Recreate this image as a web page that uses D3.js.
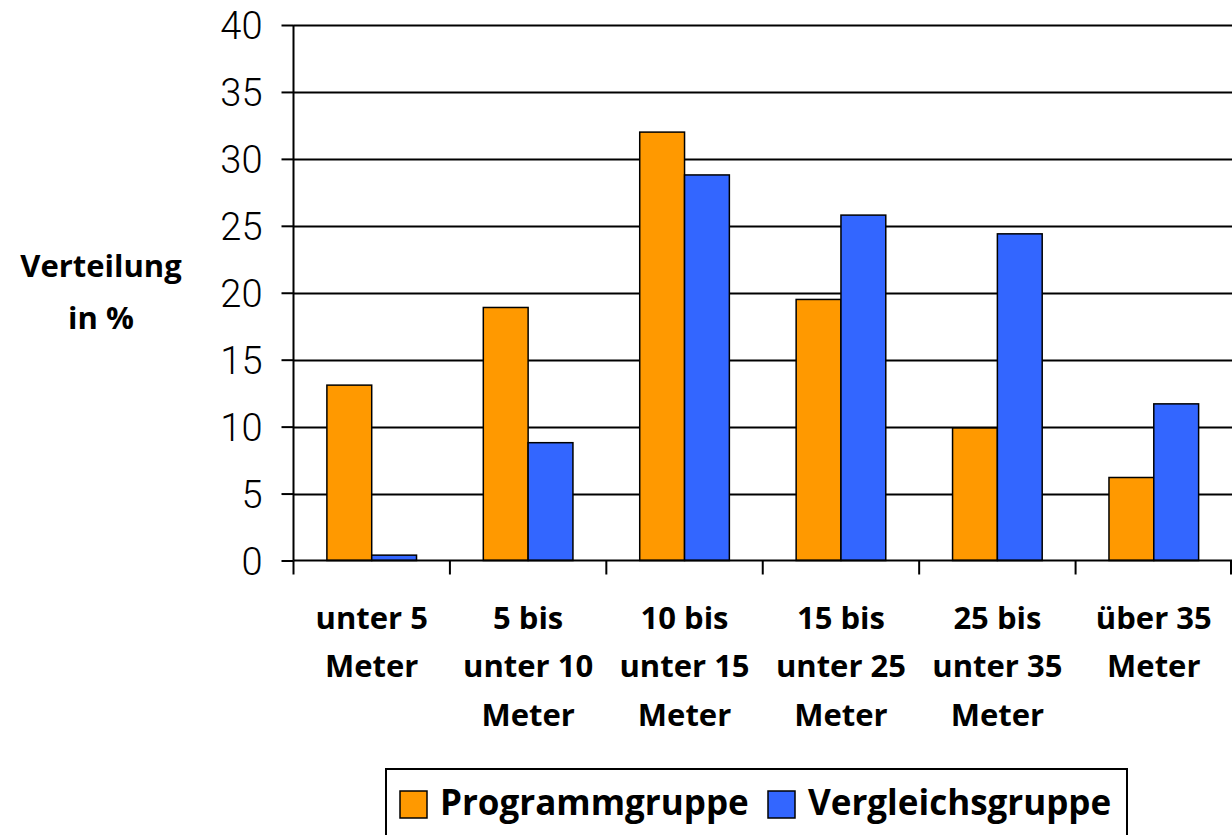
<!DOCTYPE html>
<html>
<head>
<meta charset="utf-8">
<script src="https://cdn.jsdelivr.net/npm/d3@7"></script>
<style>
  body { margin: 0; background: #fff; }
  svg { display: block; }
</style>
</head>
<body>
<div id="chart"></div>
<script>
const categories = [
  ["unter 5", "Meter"],
  ["5 bis", "unter 10", "Meter"],
  ["10 bis", "unter 15", "Meter"],
  ["15 bis", "unter 25", "Meter"],
  ["25 bis", "unter 35", "Meter"],
  ["über 35", "Meter"]
];
const seriesNames = ["Programmgruppe", "Vergleichsgruppe"];
const programm = [13.1, 18.9, 32.0, 19.5, 9.9, 6.2];
const vergleich = [0.4, 8.8, 28.8, 25.8, 24.4, 11.7];
const yTicks = [0, 5, 10, 15, 20, 25, 30, 35, 40];
const colors = ["#FF9900", "#3366FF"];

const width = 1232;
const height = 835;
const marginLeft = 293.5;
const marginRight = 0;
const marginTop = 25;
const yZero = 560.5;
const labelFont = "'Open Sans'";

const data = categories.map((c, i) => ({ i, label: c, values: [programm[i], vergleich[i]] }));

const x = d3.scaleBand()
    .domain(d3.range(categories.length))
    .range([marginLeft, width - marginRight]);

const inner = d3.scaleBand()
    .domain([0, 1])
    .range([0, x.bandwidth()])
    .paddingOuter(0.745)
    .paddingInner(0);

const y = d3.scaleLinear()
    .domain([0, 40])
    .range([yZero, marginTop]);

const svg = d3.create("svg")
    .attr("width", width)
    .attr("height", height)
    .attr("viewBox", [0, 0, width, height]);

// gridlines
svg.append("g")
    .attr("stroke", "#000")
    .attr("stroke-width", 2)
    .selectAll("line")
    .data(yTicks.filter(d => d > 0))
    .join("line")
      .attr("x1", marginLeft)
      .attr("x2", width)
      .attr("y1", d => Math.round(y(d)) + 0.5)
      .attr("y2", d => Math.round(y(d)) + 0.5);

// bars
const groups = svg.append("g")
    .selectAll("g")
    .data(data)
    .join("g")
      .attr("transform", d => `translate(${x(d.i)},0)`);

groups.selectAll("rect")
    .data(d => d.values.map((v, k) => ({ k, v })))
    .join("rect")
      .attr("x", d => inner(d.k))
      .attr("y", d => y(d.v))
      .attr("width", inner.bandwidth())
      .attr("height", d => y(0) - y(d.v))
      .attr("fill", d => colors[d.k])
      .attr("stroke", "#000")
      .attr("stroke-width", 1.5);

// y axis
svg.append("g")
    .attr("transform", `translate(${marginLeft},0)`)
    .call(d3.axisLeft(y).tickValues(yTicks).tickSize(12).tickPadding(19))
    .call(g => g.select(".domain").attr("stroke-width", 2).attr("d", `M0,${y(40)}V${y(0)}`))
    .call(g => g.selectAll(".tick line").attr("stroke-width", 2))
    .call(g => g.selectAll(".tick text")
        .attr("font-family", "Roboto")
        .attr("font-weight", 300)
        .attr("font-size", 38)
        .attr("fill", "#000")
        .attr("dy", "0.36em"));

// x axis
const xAxis = svg.append("g")
    .attr("transform", `translate(0,${yZero})`);

xAxis.append("line")
    .attr("x1", marginLeft)
    .attr("x2", width)
    .attr("stroke", "#000")
    .attr("stroke-width", 2);

xAxis.selectAll(".xtick")
    .data(d3.range(categories.length + 1))
    .join("line")
      .attr("class", "xtick")
      .attr("x1", d => Math.min(marginLeft + d * x.step(), width - 1))
      .attr("x2", d => Math.min(marginLeft + d * x.step(), width - 1))
      .attr("y1", 0)
      .attr("y2", 14)
      .attr("stroke", "#000")
      .attr("stroke-width", 2);

xAxis.selectAll(".xlabel")
    .data(data)
    .join("text")
      .attr("class", "xlabel")
      .attr("text-anchor", "middle")
      .attr("font-family", labelFont)
      .attr("font-weight", 700)
      .attr("font-size", 31)
      .attr("fill", "#000")
      .attr("transform", d => `translate(${x(d.i) + x.bandwidth() / 2},0)`)
      .selectAll("tspan")
      .data(d => d.label)
      .join("tspan")
        .attr("x", 0)
        .attr("y", (d, j) => 68 + j * 48.5)
        .text(d => d);

// y title
svg.append("text")
    .attr("text-anchor", "middle")
    .attr("font-family", labelFont)
    .attr("font-weight", 700)
    .attr("font-size", 31)
    .attr("fill", "#000")
    .selectAll("tspan")
    .data(["Verteilung", "in %"])
    .join("tspan")
      .attr("x", 101)
      .attr("y", (d, j) => 277 + j * 52)
      .text(d => d);

// legend
const legend = svg.append("g");
legend.append("rect")
    .attr("x", 386)
    .attr("y", 769)
    .attr("width", 741)
    .attr("height", 80)
    .attr("fill", "#fff")
    .attr("stroke", "#000")
    .attr("stroke-width", 2);

const legendX = [400, 768];
const items = legend.selectAll("g")
    .data(seriesNames)
    .join("g")
      .attr("transform", (d, k) => `translate(${legendX[k]},791)`);

items.append("rect")
    .attr("width", 27)
    .attr("height", 27)
    .attr("fill", (d, k) => colors[k])
    .attr("stroke", "#000")
    .attr("stroke-width", 1.5);

items.append("text")
    .attr("x", 40)
    .attr("y", 24)
    .attr("font-family", labelFont)
    .attr("font-weight", 700)
    .attr("font-size", 35)
    .attr("fill", "#000")
    .text(d => d);

d3.select("#chart").node().append(svg.node());
</script>
</body>
</html>
